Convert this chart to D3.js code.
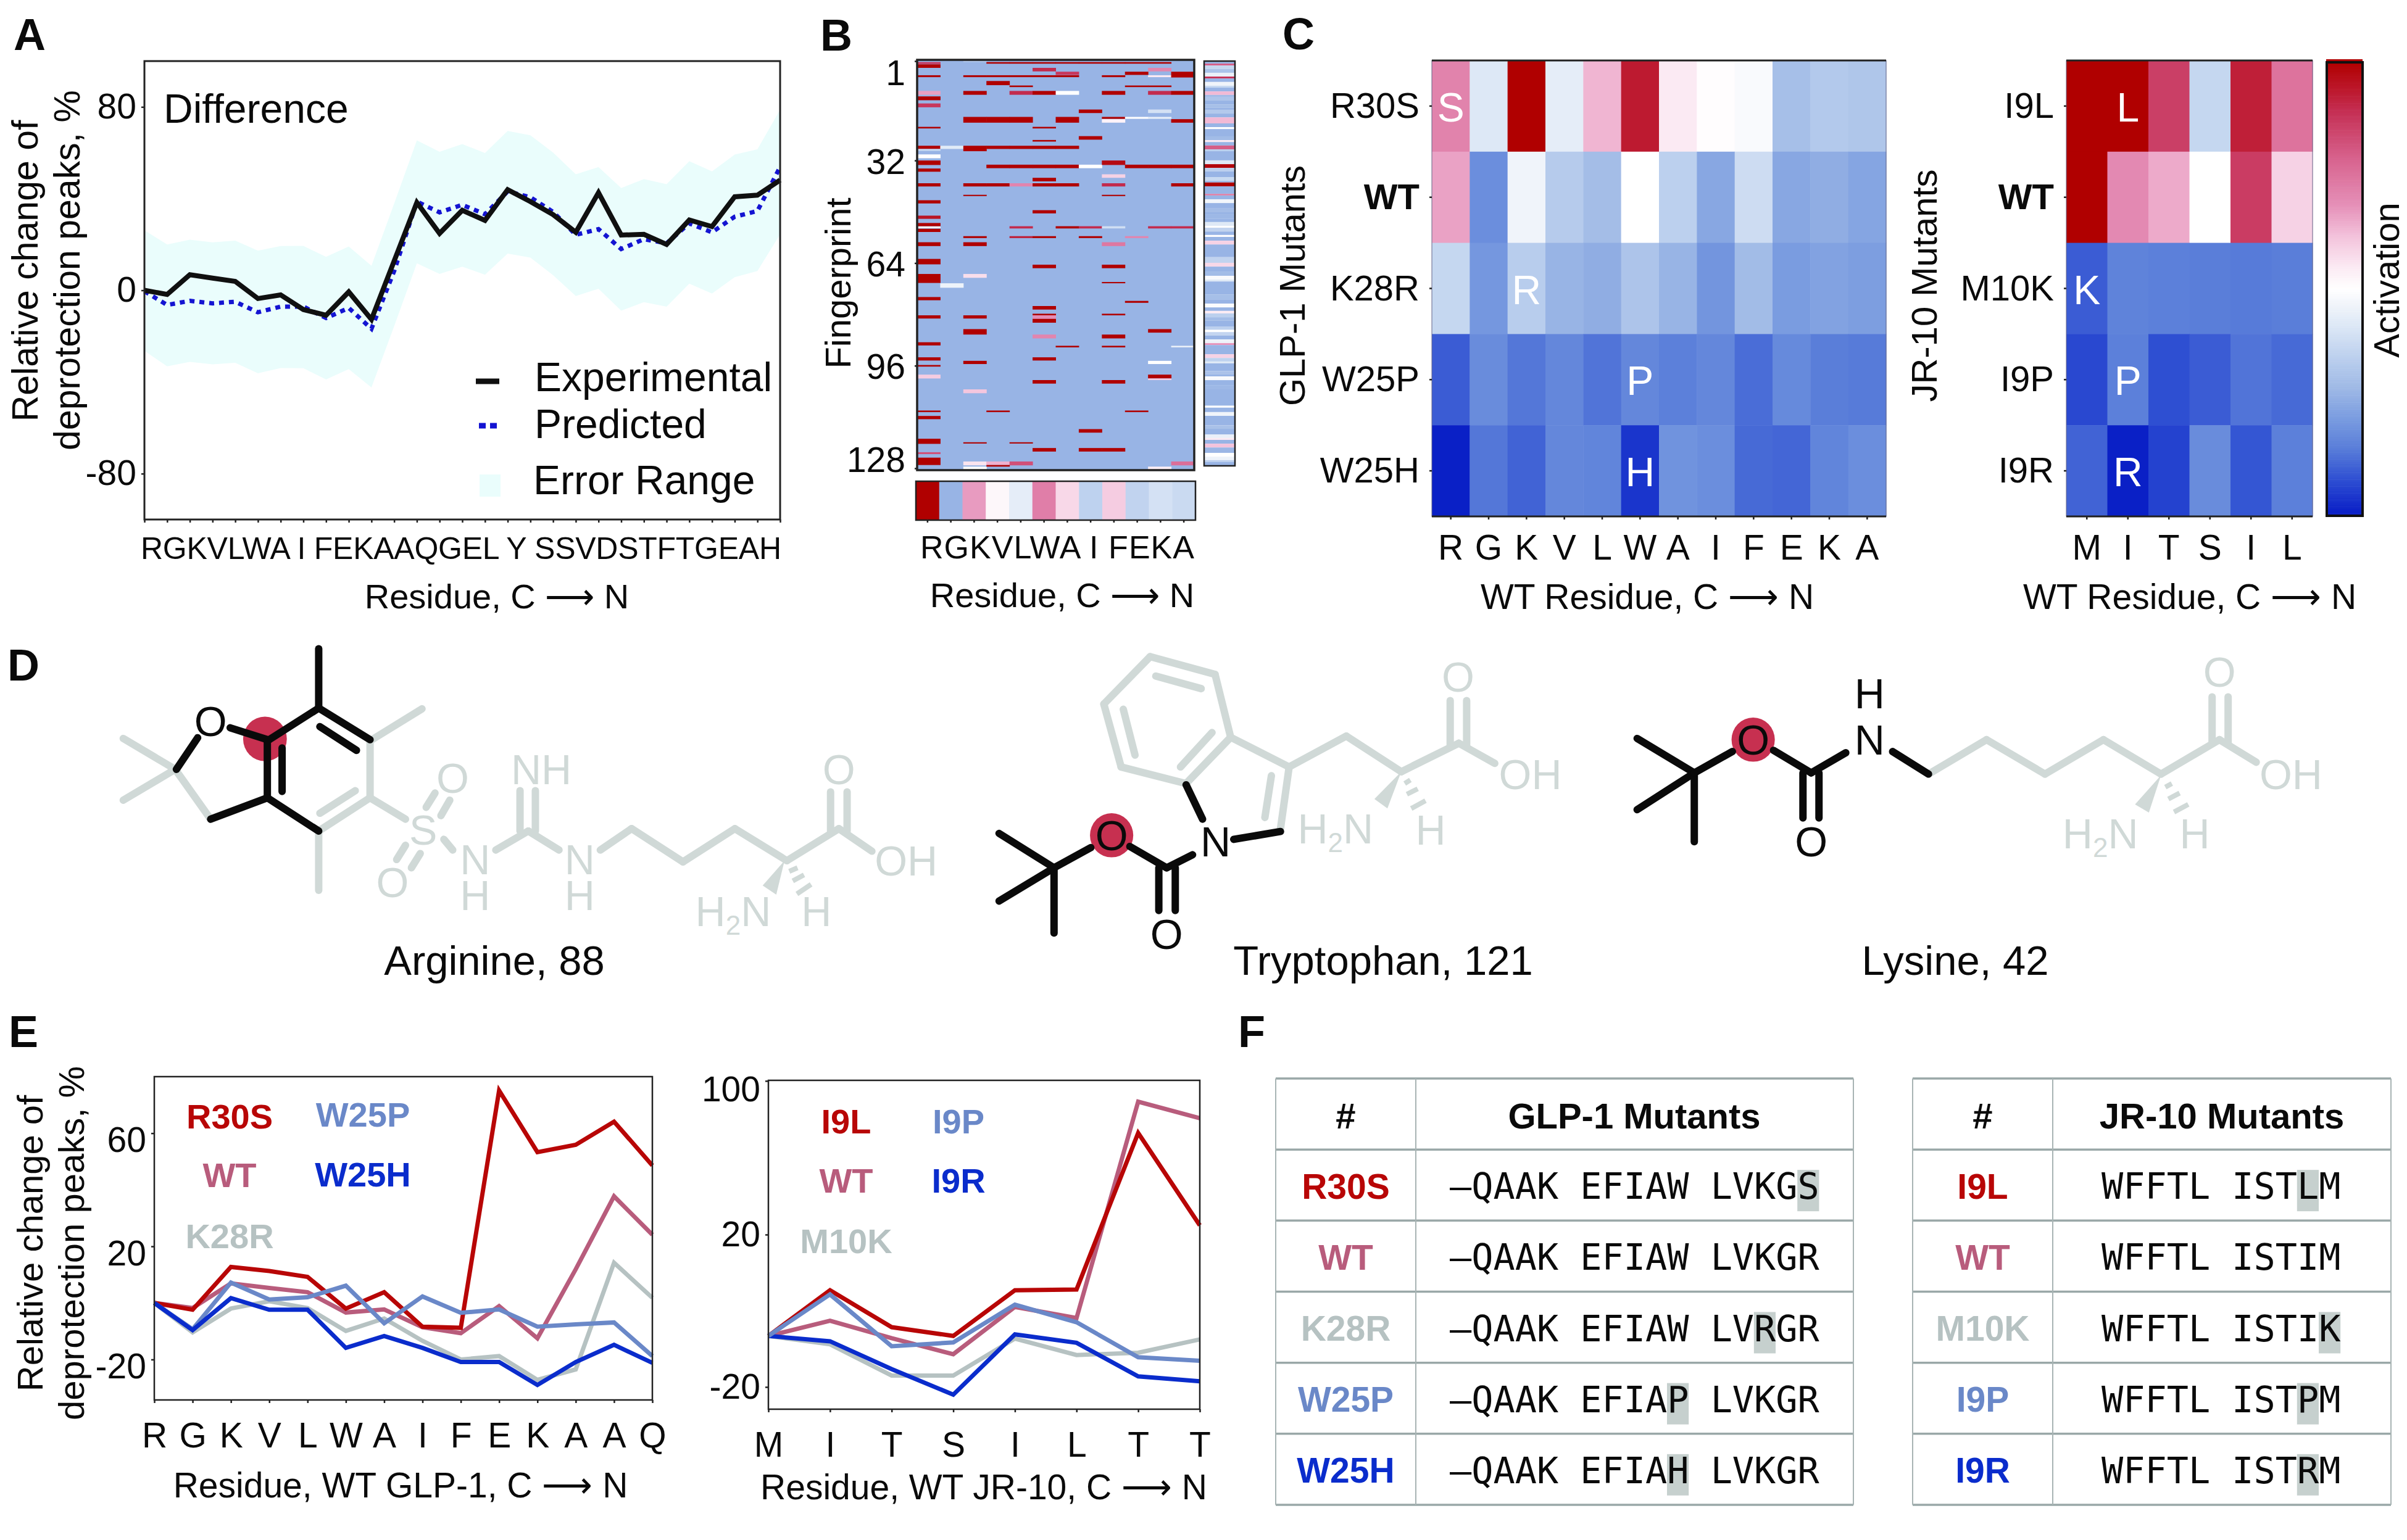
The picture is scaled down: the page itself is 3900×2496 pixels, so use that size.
<!DOCTYPE html>
<html><head><meta charset="utf-8">
<script src="https://cdn.jsdelivr.net/npm/d3@7/dist/d3.min.js"></script>
<style>html,body{margin:0;padding:0;background:#fff}svg{display:block}text{font-family:"Liberation Sans",Arial,sans-serif;fill:#0a0a0a}</style>
</head><body><svg id="c" width="3900" height="2496"></svg>
<script>
/* ---------- Colour map (activation) ---------- */
const activationStops=[-1,-.97,-.84,-.70,-.57,-.43,-.30,-.16,-.07,0,.10,.24,.37,.57,.78,.87,1];
const activationColours=["#0a20c6","#0e24c8","#2e4fd2","#5a7ed9","#7a9ce0","#a0bae6","#bcd0ee","#dde8f6","#f0f4fa","#ffffff","#fbeaf3","#f3c0da","#e590b8","#d8648f","#c53055","#bd1a30","#b00000"];

/* ---------- Panel A ---------- */
const residuesA=["R","G","K","V","L","W","A"," I ","F","E","K","A","A","Q","G","E","L"," Y ","S","S","V","D","S","T","F","T","G","E","A","H"];
const experimental=[0,-1.8,6.8,5.3,3.9,-3.6,-2,-8.4,-10.9,-.7,-12.7,12.8,38.3,24.8,34.9,30.5,43.9,38.7,33,25.3,42.6,24.1,24.4,20,30.7,27.8,40.8,41.5,48.1];
const predicted=[-.4,-6.4,-4.6,-5.7,-5,-9.6,-7.1,-7.1,-12.1,-7.7,-16.8,8.4,38.7,34,37.3,33.2,43.1,40.6,34.2,24.2,26.7,18,22.3,20.5,29.2,25.3,32.1,34.6,53.8];
const errorHigh=[26.2,20,22.1,20.9,21.7,17.3,19.3,19.4,14.6,19.1,10.7,37.8,65.4,60.4,63.8,59.9,69.5,67.6,60.1,50.6,53.8,44.6,48.5,46.3,56.3,51.9,59.2,61.5,78.8];
const errorLow=[-26.4,-33.2,-31.2,-32.3,-31.6,-36.2,-33.9,-34,-38.9,-34.4,-42.4,-15.7,11.8,7.1,10.3,6.8,16,14.3,6.6,-2.5,.7,-8.9,-5.2,-7.1,2.9,-1.4,5.7,8.4,24.4];

/* ---------- Panel B ---------- */
const residuesB=["R","G","K","V","L","W","A"," I ","F","E","K","A"];
const fingerprintTicks=[1,32,64,96,128];
const fingerprintBase=-.46;
/* each column: [first row, rows spanned, activation] */
const fpR=[[.7,.6,.75],[1.4,1.1,1],[4.8,.6,1],[9.7,1.2,.33],[11.4,1.2,1],[13.6,1.2,.75],[20.9,.5,1],[26.8,1,1],[27.8,.6,-.25],[29.5,1.2,0],[31.4,1.4,1],[33.9,1,1],[38.5,1,1],[43.8,1,1],[48.6,1,.9],[50.9,1,1],[52,.5,0],[52.7,1,1],[56.9,1.2,1],[62.1,1.7,1],[66.8,2.8,1],[74,1,1],[79.7,1,1],[88.1,1,1],[92.8,1,1],[95.2,.5,1],[98.2,1.2,.2],[109.4,.5,1],[111.1,1,1],[118.2,1.6,1],[122.4,.6,.65],[124.1,2.3,1]];
const fpG=[[26.8,1,-.14],[69.7,1.4,-.08]];
const fpK=[[.2,.5,-.35],[4.8,.6,1],[9.7,1.2,1],[17.8,1.8,1],[26.8,1.7,1],[38.5,1,1],[42.1,.4,1],[55,.6,1],[56.9,1.2,1],[66.8,1.2,.14],[79.7,1,1],[84,1.7,1],[93.9,1,1],[102.8,1.2,.22],[119.3,.4,1],[125.3,1.2,.12],[126.9,1.1,0]];
const fpV=[[.7,.5,1],[4.8,.6,1],[6.6,1.3,1],[17.8,1.8,1],[26.8,1,1],[32.7,1.1,1],[38.5,1,1],[109.4,.5,1],[125.3,1.1,.28],[126.4,.5,1]];
const fpL=[[.7,.5,1],[4.8,.6,1],[8,.5,1],[9.7,1.2,.8],[17.8,1.8,1],[26.8,1,1],[32.7,1.1,1],[38.5,1,.42],[51.9,.7,.8],[55,.6,.85],[119.3,.4,1],[125.3,1.2,.65]];
const fpW=[[.7,.5,1],[2.5,1.1,.8],[4.8,.6,1],[9.7,1.2,1],[20.9,.5,1],[25,.5,1],[26.8,1,1],[32.7,1.1,1],[36.8,1.1,1],[38.5,1,1],[46.9,1,1],[55,.6,1],[63.9,1.1,1],[76.8,1.1,1],[79.2,.5,1],[79.7,1.1,.38],[80.8,1.2,1],[85.7,1.2,.42],[92.8,1,1],[99.9,1.1,1],[121.1,1.1,1]];
const fpA=[[.7,.5,1],[3.7,1,.75],[4.8,.6,1],[9.7,1.2,0],[17.8,1.8,1],[26.8,1,1],[32.7,1.1,1],[38.5,1,1],[51.9,.7,1],[89.2,.5,1]];
const fpI=[[.7,.5,1],[15.5,1.1,1],[23.8,1.1,1],[32.7,1.1,0],[51.9,.7,.8],[55,.6,1],[115.2,1.1,1],[121.1,1.1,1]];
const fpF=[[.7,.5,1],[4.8,.6,1],[9.7,1.2,1],[17.8,.6,1],[18.5,1.1,.06],[31.4,1.4,.95],[35.7,1.1,.18],[38.5,1,.8],[42.1,.4,1],[51.9,.7,-.22],[56.9,1.2,.48],[63.9,1.1,1],[69.3,.4,1],[79.2,.5,1],[85.7,1.2,1],[89.2,.5,1],[99.9,1.1,1],[121.1,1.1,1]];
const fpE=[[.7,.5,1],[3.7,1,1],[8,.5,1],[17.8,.6,0],[32.7,1.1,1],[55,.6,.42],[75.2,.6,1],[109.4,.5,1]];
const fpK2=[[.7,.5,1],[2.5,1.1,.42],[4.8,.6,.1],[8,.5,1],[9.7,1.2,.8],[15.5,1.1,-.2],[17.8,.6,-.1],[32.7,1.1,1],[51.9,.7,.8],[84,1.1,1],[93.9,1,0],[98.2,1.2,1],[99.4,.5,.2],[126.9,1.1,.08]];
const fpA2=[[3.7,1.8,1],[9.7,1.2,1],[18.5,1.1,1],[32.7,1.1,1],[38.5,1,1],[51.9,.7,.8],[89.2,.5,-.1],[125.3,1.2,.52]];
const fingerprintColumns=[fpR,fpG,fpK,fpV,fpL,fpW,fpA,fpI,fpF,fpE,fpK2,fpA2];
/* right strip: [row where a band starts, activation] (each band ends where the next starts) */
const stripBands=[[0,-.46],[.8,.6],[1.4,-.26],[2.5,-.38],[3.7,-.1],[4.9,.78],[5.5,-.46],[6.6,-.07],[7.8,-.25],[8.4,-.46],[9.6,.26],[10.7,-.43],[11.3,-.37],[12.5,-.46],[13.7,-.4],[14.8,-.46],[15.4,-.34],[16.6,-.46],[17.8,.26],[19.7,-.46],[20.9,0],[21.5,-.46],[23.8,-.42],[25,.1],[25.6,-.46],[26.7,.6],[27.9,-.3],[28.5,-.46],[31.4,-.15],[32.6,.97],[33.8,-.3],[34.9,-.46],[36.7,-.25],[37.9,-.46],[38.4,1],[39.6,-.46],[42,.48],[42.5,-.46],[43.7,-.06],[44.9,-.46],[46.6,-.41],[47.8,-.46],[48.4,-.44],[49.8,-.46],[50.9,-.15],[52.1,0],[52.7,-.28],[53.9,-.46],[55,0],[55.6,-.46],[56.8,.18],[58,-.46],[62,-.28],[63.8,.16],[65,-.46],[66.7,-.42],[67.9,-.03],[69.1,-.15],[69.7,-.46],[73.8,-.4],[75.5,-.46],[76.7,-.02],[77.9,-.46],[79,.09],[79.8,-.3],[81,-.41],[82.1,-.46],[83.9,-.3],[85,0],[85.7,-.27],[86.8,-.46],[88,-.08],[89.2,.36],[89.8,-.46],[92.7,.18],[93.9,-.29],[95,-.15],[95.6,-.46],[98,-.38],[99.1,-.46],[99.7,-.03],[100.9,-.46],[102.6,-.44],[103.8,-.46],[109,0],[109.6,-.46],[111,-.07],[112.2,-.46],[115.2,-.39],[116.3,-.46],[118.1,-.1],[119.2,.1],[119.8,-.46],[121,.23],[122.2,-.45],[123.9,0],[125.1,-.08],[126.2,-.3],[126.8,-.46]];
const meanActivation=[1,-.46,.34,.04,-.12,.45,.16,-.29,.2,-.28,-.2,-.24];

/* ---------- Panel C ---------- */
const glpCols=["R","G","K","V","L","W","A","I","F","E","K","A"];
const glpRows=["R30S","WT","K28R","W25P","W25H"];
const glpR30S=[.43,-.16,1,-.12,.27,.87,.1,.01,-.03,-.4,-.34,-.36];
const glpWT=[.32,-.63,-.07,-.33,-.41,0,-.3,-.52,-.23,-.52,-.49,-.53];
const glpK28R=[-.26,-.59,-.32,-.46,-.49,-.37,-.46,-.6,-.42,-.57,-.54,-.56];
const glpW25P=[-.8,-.64,-.72,-.66,-.73,-.66,-.69,-.66,-.75,-.65,-.7,-.71];
const glpW25H=[-1,-.72,-.78,-.66,-.67,-.92,-.61,-.63,-.76,-.77,-.67,-.63];
const glpLetters=[["S",0,0],["R",2,2],["P",3,5],["H",4,5]];
const jrCols=["M","I","T","S","I","L"];
const jrRows=["I9L","WT","M10K","I9P","I9R"];
const jrI9L=[1,1,.72,-.26,.85,.5];
const jrWT=[1,.4,.3,0,.73,.18];
const jrM10K=[-.8,-.68,-.69,-.7,-.71,-.7];
const jrI9P=[-.86,-.69,-.84,-.8,-.73,-.76];
const jrI9R=[-.78,-1,-.88,-.64,-.82,-.69];
const jrLetters=[["L",0,1],["K",2,0],["P",3,1],["R",4,1]];

/* ---------- Panel E ---------- */
const glpResidues=["R","G","K","V","L","W","A","I","F","E","K","A","A","Q"];
const eR30S=[0,-2.4,12.7,11.3,9.2,-2,3.8,-8.4,-8.8,75.1,53.3,55.9,64.1,48.6];
const eWT=[0,-1.8,6.9,5.3,3.8,-3.4,-2.3,-8.6,-10.7,-1.1,-12.5,11.9,37.7,24.1];
const eK28R=[0,-10.4,-2,.6,-1.8,-9.9,-5.5,-13.4,-20,-18.8,-27.2,-23.5,14.2,1.8];
const eW25P=[0,-9.3,7.2,1.2,2,6.1,-7.2,2.3,-3.5,-2.3,-8.4,-7.6,-6.9,-18.8];
const eW25H=[0,-9.6,1.7,-2.4,-2.4,-15.9,-11.7,-15.9,-20.9,-20.9,-29,-20.9,-14.8,-21.2];
const jrResidues=["M","I","T","S","I","L","T","T"];
const fI9L=[-6.6,5.4,-4.3,-6.6,5.4,5.6,72.9,24.8];
const fWT=[-6.6,-2.6,-7.2,-11.4,1,-1.9,89.2,80.6];
const fM10K=[-6.6,-8.8,-17,-17,-7.3,-11.6,-11,-7.5];
const fI9P=[-6.6,4.3,-9.3,-8.3,1.6,-3,-12.2,-13.1];
const fI9R=[-6.6,-8,-15.3,-22,-6.2,-8.4,-17.2,-18.5];
const seriesColours=["#b80606","#b85c7c","#b6c2c2","#6a88c8","#0a2ccc"];

/* ---------- Panel F ---------- */
const glpSeqs=["–QAAK EFIAW LVKGS","–QAAK EFIAW LVKGR","–QAAK EFIAW LVRGR","–QAAK EFIAP LVKGR","–QAAK EFIAH LVKGR"];
const glpMutPos=[16,null,14,10,10];
const jrSeqs=["WFFTL ISTLM","WFFTL ISTIM","WFFTL ISTIK","WFFTL ISTPM","WFFTL ISTRM"];
const jrMutPos=[9,null,10,9,9];

/* ---------- Panel D ---------- */
const INK="#0a0a0a",GHOST="#d0d9d7",HALO="#c73050";
const arginine={o:[150,1020],s:[.9566,.3846],halo:[292,462,37,94],
 k:[[383,82,383,332],[383,332,296,470],[383,332,470,465],[385,410,447,510],[296,470,296,710],[321,500,321,683],[296,710,383,850],[296,710,200,800],[296,465,233,415],[178,457,142,590]],
 g:[[140,590,200,800],[140,590,52,460],[140,590,52,720],[470,470,558,335],[470,470,470,710],[470,710,383,850],[445,680,385,775],[383,850,383,1100],[470,710,530,800],[580,690,565,750],[605,720,590,785],[530,910,515,970],[555,945,540,1005],[595,885,610,930],[683,930,738,850],[738,850,790,930],[724,680,724,850],[750,680,750,850],[860,930,913,840],[913,840,1000,980],[1000,980,1088,840],[1088,840,1176,975],[1176,975,1264,840],[1264,840,1320,935],[1250,685,1250,850],[1278,685,1278,850]],
 wedge:[1172,975,1135,1080,1158,1118],hash:[[1180,1020,1194,1005],[1186,1060,1205,1035],[1193,1115,1217,1075]],
 atoms:[["O",200,387,INK],["S",560,845,GHOST],["O",610,627,GHOST],["O",508,1067,GHOST],["NH",760,590,GHOST],["N/H",648,970,GHOST],["N/H",825,970,GHOST],["O",1264,592,GHOST],["OH",1378,975,GHOST],["H2N",1085,1190,GHOST],["H",1226,1190,GHOST]]};
const tryptophan={o:[1550,1020],s:[.7015,.3846],halo:[358,868,50,93],
 k:[[530,655,568,800],[640,885,748,852],[545,950,485,1005],[485,1005,400,915],[310,920,225,1005],[225,1005,98,860],[225,1005,98,1145],[225,1005,225,1280],[467,1005,467,1185],[505,1005,505,1185]],
 g:[[447,115,597,190],[597,190,633,455],[633,455,530,650],[530,650,380,580],[380,580,340,315],[340,315,447,115],[460,197,565,250],[385,337,412,530],[590,435,517,580],[633,455,768,580],[768,580,748,840],[727,617,712,793],[768,580,900,450],[900,450,1027,600],[1027,600,1160,480],[1160,480,1243,565],[1140,300,1140,490],[1178,300,1178,490]],
 wedge:[1027,600,965,715,995,755],hash:[[1035,650,1048,635],[1040,695,1065,672],[1050,755,1083,722]],
 atoms:[["N",598,895,INK],["O",358,868,INK],["O",485,1285,INK],["O",1158,200,GHOST],["OH",1325,612,GHOST],["H2N",875,840,GHOST],["H",1095,845,GHOST]]};
const lysine={o:[2600,1020],s:[.7015,.3846],halo:[343,465,50,93],
 k:[[75,460,207,605],[75,760,207,605],[207,605,207,895],[207,605,295,515],[390,510,477,605],[477,605,557,520],[665,515,748,610],[458,605,458,795],[495,605,495,795]],
 g:[[748,610,882,465],[882,465,1017,610],[1017,610,1152,465],[1152,465,1285,610],[1285,610,1420,465],[1420,465,1505,560],[1403,285,1403,480],[1440,285,1440,480]],
 wedge:[1285,615,1225,738,1257,772],hash:[[1295,665,1310,650],[1302,715,1328,690],[1315,770,1348,738]],
 atoms:[["O",343,465,INK],["N",612,465,INK],["H",612,270,INK],["O",477,895,INK],["O",1420,180,GHOST],["OH",1585,612,GHOST],["H2N",1145,860,GHOST],["H",1363,860,GHOST]]};

/* ========== drawing ========== */
const svg=d3.select("#c");
svg.append("rect").attr("width",3900).attr("height",2496).attr("fill","#fff");
const act=d3.scaleLinear().domain(activationStops).range(activationColours).clamp(true);
const ARROW="\u27F6";
function T(g,x,y,s,o={}){
  const t=g.append("text").attr("x",o.rot?0:x).attr("y",o.rot?0:y).attr("dy",".35em")
   .attr("text-anchor",o.anchor||"middle").attr("font-size",o.size||58).attr("font-weight",o.weight||"normal")
   .style("fill",o.fill||INK).text(s);
  if(o.family)t.style("font-family",o.family);
  if(o.rot)t.attr("transform",`translate(${x},${y}) rotate(${o.rot})`);
  return t;
}
function styleAxis(g,size){
  g.attr("font-size",size).attr("font-family",'"Liberation Sans",Arial,sans-serif');
  g.select(".domain").remove();
  g.selectAll(".tick line").attr("stroke","#222").attr("stroke-width",2.5);
  g.selectAll(".tick text").style("fill",INK);
  return g;
}
function frame(g,x0,x1,y0,y1,w=3,c="#222"){
  g.append("rect").attr("x",x0).attr("y",y0).attr("width",x1-x0).attr("height",y1-y0).attr("fill","none").attr("stroke",c).attr("stroke-width",w);
}
const root=svg.append("g");
[["A",22,56],["B",1329,57],["C",2078,55],["D",12,1078],["E",14,1672],["F",2006,1672]].forEach(d=>T(root,d[1],d[2],d[0],{anchor:"start",size:72,weight:"bold"}));

/* ---- A ---- */
(function(){
  const g=svg.append("g");
  const x0=234,x1=1264,y0=99,y1=842;
  const x=d3.scaleLinear().domain([0,experimental.length-1]).range([x0,x1]);
  const y=d3.scaleLinear().domain([-100,100]).range([y1,y0]);
  const idx=d3.range(experimental.length);
  g.append("path").attr("fill","#eafdfc")
   .attr("d",d3.area().x(i=>x(i)).y0(i=>y(errorLow[i])).y1(i=>y(errorHigh[i]))(idx));
  const ln=a=>d3.line().x(i=>x(i)).y(i=>y(a[i]))(idx);
  g.append("path").attr("d",ln(predicted)).attr("fill","none").attr("stroke","#1414d2").attr("stroke-width",7).attr("stroke-dasharray","8 8");
  g.append("path").attr("d",ln(experimental)).attr("fill","none").attr("stroke","#101010").attr("stroke-width",8).attr("stroke-linejoin","miter");
  frame(g,x0,x1,y0,y1);
  styleAxis(g.append("g").attr("transform",`translate(${x0},0)`).call(d3.axisLeft(y).tickValues([-80,0,80]).tickSize(5).tickPadding(8).tickFormat(d=>String(d))),57);
  styleAxis(g.append("g").attr("transform",`translate(0,${y1})`).call(d3.axisBottom(x).tickValues(idx).tickSize(5).tickFormat("")),56);
  T(g,228,888,residuesA.join(""),{anchor:"start",size:50}).attr("textLength",1038).attr("lengthAdjust","spacing");
  T(g,265,176,"Difference",{anchor:"start",size:66});
  T(g,805,966,"Residue, C "+ARROW+" N",{size:56});
  T(g,40,439,"Relative change of",{size:59,rot:-90});
  T(g,108,438,"deprotection peaks, %",{size:59,rot:-90});
  g.append("line").attr("x1",771).attr("x2",809).attr("y1",618).attr("y2",618).attr("stroke","#101010").attr("stroke-width",9);
  g.append("line").attr("x1",776).attr("x2",806).attr("y1",690).attr("y2",690).attr("stroke","#1414d2").attr("stroke-width",9).attr("stroke-dasharray","11 7");
  g.append("rect").attr("x",777).attr("y",769).attr("width",34).attr("height",36).attr("fill","#eafdfc");
  T(g,866,611,"Experimental",{anchor:"start",size:66});
  T(g,866,687,"Predicted",{anchor:"start",size:66});
  T(g,864,778,"Error Range",{anchor:"start",size:66});
})();

/* ---- B ---- */
(function(){
  const g=svg.append("g");
  const x0=1486,x1=1935,y0=97,y1=762;
  const col=d3.scaleBand().domain(d3.range(12)).range([x0,x1]);
  const row=d3.scaleLinear().domain([0,128]).range([y0,y1]);
  g.append("rect").attr("x",x0).attr("y",y0).attr("width",x1-x0).attr("height",y1-y0).attr("fill",act(fingerprintBase));
  fingerprintColumns.forEach((c,i)=>{
    g.append("g").selectAll("rect").data(c).join("rect")
     .attr("x",col(i)).attr("width",col.bandwidth()+.5)
     .attr("y",d=>row(d[0])).attr("height",d=>row(d[0]+d[1])-row(d[0])).attr("fill",d=>act(d[2]));
  });
  frame(g,x0,x1,y0,y1,3.5);
  const tickY=d3.scaleLinear().domain([1,128]).range([99,759]);
  const ax=styleAxis(g.append("g").attr("transform",`translate(${x0},0)`).call(d3.axisLeft(tickY).tickValues(fingerprintTicks).tickSize(4).tickPadding(15).tickFormat(d3.format("d"))),57);
  ax.selectAll(".tick text").attr("dy","0.37em");
  ax.selectAll(".tick text").filter(d=>d===1).attr("dy","0.67em");
  ax.selectAll(".tick text").filter(d=>d===128).attr("dy","0.1em");
  T(g,1358,459,"Fingerprint",{size:58,rot:-90});
  /* right strip */
  const sy=d3.scaleLinear().domain([0,128]).range([99,755]);
  const sx=[1951,2001];
  g.append("g").selectAll("rect").data(stripBands).join("rect")
   .attr("x",sx[0]).attr("width",sx[1]-sx[0])
   .attr("y",d=>sy(d[0])).attr("height",(d,i)=>sy(i+1<stripBands.length?stripBands[i+1][0]:128)-sy(d[0])).attr("fill",d=>act(d[1]));
  frame(g,sx[0],sx[1],99,755,2.5);
  /* bottom strip */
  const bc=d3.scaleBand().domain(d3.range(12)).range([1484,1937]);
  g.append("g").selectAll("rect").data(meanActivation).join("rect")
   .attr("x",(d,i)=>bc(i)).attr("width",bc.bandwidth()+.5).attr("y",780).attr("height",63).attr("fill",d=>act(d));
  frame(g,1484,1937,780,843,2.5);
  styleAxis(g.append("g").attr("transform","translate(0,843)").call(d3.axisBottom(bc).tickSize(4).tickFormat("")),56);
  T(g,1491,887,residuesB.join(""),{anchor:"start",size:52}).attr("textLength",444).attr("lengthAdjust","spacing");
  T(g,1721,964,"Residue, C "+ARROW+" N",{size:56});
})();

/* ---- C ---- */
function heat(o){
  const g=svg.append("g");
  const x=d3.scaleBand().domain(d3.range(o.cols.length)).range([o.x0,o.x1]);
  const y=d3.scaleBand().domain(o.rows).range([98,837]);
  o.matrix.forEach((r,ri)=>{
    g.append("g").selectAll("rect").data(r).join("rect")
     .attr("x",(d,i)=>x(i)).attr("width",x.bandwidth()+.5)
     .attr("y",y(o.rows[ri])).attr("height",y.bandwidth()+.5).attr("fill",d=>act(d));
  });
  o.letters.forEach(d=>T(g,x(d[2])+x.bandwidth()/2,y(o.rows[d[1]])+y.bandwidth()/2+2,d[0],{size:66}).style("fill","#fff"));
  frame(g,o.x0,o.x1,98,837,1,"#668");
  g.append("line").attr("x1",o.x0).attr("x2",o.x1).attr("y1",98).attr("y2",98).attr("stroke","#222").attr("stroke-width",3);
  g.append("line").attr("x1",o.x0).attr("x2",o.x1).attr("y1",837).attr("y2",837).attr("stroke","#222").attr("stroke-width",3);
  const ay=styleAxis(g.append("g").attr("transform",`translate(${o.x0},0)`).call(d3.axisLeft(y).tickSize(4).tickPadding(16)),58);
  ay.selectAll(".tick text").attr("dy","0.33em");
  ay.selectAll(".tick text").filter(d=>d==="WT").attr("font-weight","bold");
  styleAxis(g.append("g").attr("transform","translate(0,837)").call(d3.axisBottom(x).tickSize(5).tickPadding(25).tickFormat(i=>o.cols[i])),57);
  T(g,o.tx,967,"WT Residue, C "+ARROW+" N",{size:57});
  T(g,o.lx,463,o.label,{size:58,rot:-90});
}
heat({x0:2320,x1:3056,cols:glpCols,rows:glpRows,matrix:[glpR30S,glpWT,glpK28R,glpW25P,glpW25H],letters:glpLetters,tx:2669,lx:2094,label:"GLP-1 Mutants"});
heat({x0:3348,x1:3747,cols:jrCols,rows:jrRows,matrix:[jrI9L,jrWT,jrM10K,jrI9P,jrI9R],letters:jrLetters,tx:3548,lx:3118,label:"JR-10 Mutants"});
(function(){
  const g=svg.append("g");
  const y=d3.scaleLinear().domain([-1,1]).range([836,101]);
  const steps=d3.range(-1,1,.01);
  g.append("rect").attr("x",3769).attr("y",96).attr("width",59).attr("height",6).attr("fill","#b00000");
  g.append("g").selectAll("rect").data(steps).join("rect")
   .attr("x",3769).attr("width",59).attr("y",d=>y(d+.01)).attr("height",d=>y(d)-y(d+.01)+.6).attr("fill",d=>act(d+.005));
  frame(g,3770,3828,101,836,4,"#111");
  T(g,3867,454,"Activation",{size:58,rot:-90});
})();

/* ---- D ---- */
function molecule(m){
  const g=svg.append("g");
  const X=v=>m.o[0]+v*m.s[0],Y=v=>m.o[1]+v*m.s[1];
  g.append("ellipse").attr("cx",X(m.halo[0])).attr("cy",Y(m.halo[1])).attr("rx",m.halo[2]*m.s[0]).attr("ry",m.halo[3]*m.s[1]).attr("fill",HALO);
  const bonds=(list,c)=>g.append("g").selectAll("line").data(list).join("line")
    .attr("x1",d=>X(d[0])).attr("y1",d=>Y(d[1])).attr("x2",d=>X(d[2])).attr("y2",d=>Y(d[3]))
    .attr("stroke",c).attr("stroke-width",12).attr("stroke-linecap","round");
  bonds(m.g,GHOST);bonds(m.k,INK);
  const w=m.wedge;
  g.append("polygon").attr("points",[0,2,4].map(i=>X(w[i])+","+Y(w[i+1])).join(" ")).attr("fill",GHOST);
  g.append("g").selectAll("line").data(m.hash).join("line")
    .attr("x1",d=>X(d[0])).attr("y1",d=>Y(d[1])).attr("x2",d=>X(d[2])).attr("y2",d=>Y(d[3]))
    .attr("stroke",GHOST).attr("stroke-width",8);
  m.atoms.forEach(a=>{
    const t=T(g,X(a[1]),Y(a[2]),"",{size:68}).style("fill",a[3]);
    if(a[0]==="H2N"){
      t.append("tspan").text("H");
      t.append("tspan").attr("font-size",44).attr("dy",14).text("2");
      t.append("tspan").attr("dy",-14).text("N");
    } else if(a[0]==="N/H"){
      t.append("tspan").attr("x",X(a[1])).text("N");
      t.append("tspan").attr("x",X(a[1])).attr("dy",58).text("H");
    } else t.text(a[0]);
  });
}
[arginine,tryptophan,lysine].forEach(molecule);
T(root,801,1557,"Arginine, 88",{size:67});
T(root,2241,1557,"Tryptophan, 121",{size:67});
T(root,3168,1557,"Lysine, 42",{size:67});

/* ---- E ---- */
function lines(o){
  const g=svg.append("g");
  const idx=d3.range(o.labels.length);
  const x=d3.scaleLinear().domain([0,idx.length-1]).range([o.x0,o.x1]);
  o.order.forEach(k=>{
    g.append("path").attr("d",d3.line().x(i=>x(i)).y(i=>o.y(o.series[k][i]))(idx))
     .attr("fill","none").attr("stroke",seriesColours[k]).attr("stroke-width",7);
  });
  frame(g,o.x0,o.x1,o.y0,o.y1,2.5);
  const ay=styleAxis(g.append("g").attr("transform",`translate(${o.x0},0)`).call(d3.axisLeft(o.y).tickValues(o.ticks).tickSize(5).tickPadding(8).tickFormat(d=>String(d))),57);
  ay.selectAll(".tick text").attr("transform",d=>`translate(0,${o.tickShift(d)})`);
  styleAxis(g.append("g").attr("transform",`translate(0,${o.y1})`).call(d3.axisBottom(x).tickValues(idx).tickSize(5).tickPadding(32).tickFormat(i=>o.labels[i])),57);
  o.legend.forEach(l=>T(g,l[1],l[2],l[0],{size:56,weight:"bold"}).style("fill",seriesColours[l[3]]));
  T(g,o.tx,o.ty,o.title,{size:o.titleSize});
}
lines({x0:250,x1:1057,y0:1745,y1:2269,labels:glpResidues,series:[eR30S,eWT,eK28R,eW25P,eW25H],order:[2,1,0,3,4],
  y:d3.scaleLinear().domain([-34.3,80]).range([2269,1745]),ticks:[-20,20,60],tickShift:()=>12,
  legend:[["R30S",372,1809,0],["W25P",588,1806,3],["WT",372,1904,1],["W25H",588,1903,4],["K28R",372,2003,2]],
  tx:649,ty:2407,titleSize:57,title:"Residue, WT GLP-1, C "+ARROW+" N"});
T(root,49,2015,"Relative change of",{size:58,rot:-90});
T(root,116,2015,"deprotection peaks, %",{size:58,rot:-90});
lines({x0:1245,x1:1944,y0:1751,y1:2284,labels:jrResidues,series:[fI9L,fWT,fM10K,fI9P,fI9R],order:[2,1,0,4,3],
  y:d3.scaleLinear().domain([-25.8,-20,20,100.3]).range([2284,2248,2001,1751]),ticks:[-20,20,100],tickShift:d=>d===100?14:0,
  legend:[["I9L",1371,1817,0],["I9P",1553,1817,3],["WT",1371,1913,1],["I9R",1553,1913,4],["M10K",1371,2011,2]],
  tx:1594,ty:2410,titleSize:57,title:"Residue, WT JR-10, C "+ARROW+" N"});

/* ---- F ---- */
function table(o){
  const g=svg.append("g");
  const y=d3.scaleBand().domain(["#"].concat(o.rows)).range([1748,2439]);
  const hl=d3.scaleLinear().domain([0,1]).range([o.seqX,o.seqX+35.2]);
  o.pos.forEach((p,i)=>{
    if(p===null)return;
    g.append("rect").attr("x",hl(p)).attr("width",hl(p+1)-hl(p)).attr("y",y(o.rows[i])+33).attr("height",67).attr("fill","#c6d0ce");
  });
  y.domain().forEach((r,i)=>{
    g.append("line").attr("x1",o.x[0]).attr("x2",o.x[2]).attr("y1",y(r)).attr("y2",y(r)).attr("stroke","#9aa8a8").attr("stroke-width",3.5);
  });
  g.append("line").attr("x1",o.x[0]).attr("x2",o.x[2]).attr("y1",2439).attr("y2",2439).attr("stroke","#9aa8a8").attr("stroke-width",3.5);
  o.x.forEach(v=>g.append("line").attr("x1",v).attr("x2",v).attr("y1",1748).attr("y2",2439).attr("stroke","#a8b4b4").attr("stroke-width",2));
  const cx=(o.x[0]+o.x[1])/2,h=y.bandwidth();
  T(g,cx,y("#")+h/2+3,"#",{size:58,weight:"bold"});
  T(g,o.headX,y("#")+h/2+3,o.head,{size:58,weight:"bold"});
  o.rows.forEach((r,i)=>{
    T(g,cx,y(r)+h/2+2,o.names[i],{size:57,weight:"bold"}).style("fill",seriesColours[i]);
    T(g,o.seqX,y(r)+h/2+2,o.seqs[i],{size:58.5,anchor:"start",family:'"DejaVu Sans Mono",monospace'});
  });
}
table({x:[2067,2294,3003],rows:glpRows.map(d=>"g"+d),names:glpRows,seqs:glpSeqs,pos:glpMutPos,seqX:2349,head:"GLP-1 Mutants",headX:2648});
table({x:[3099,3326,3874],rows:jrRows.map(d=>"j"+d),names:jrRows,seqs:jrSeqs,pos:jrMutPos,seqX:3405,head:"JR-10 Mutants",headX:3600});
</script></body></html>
